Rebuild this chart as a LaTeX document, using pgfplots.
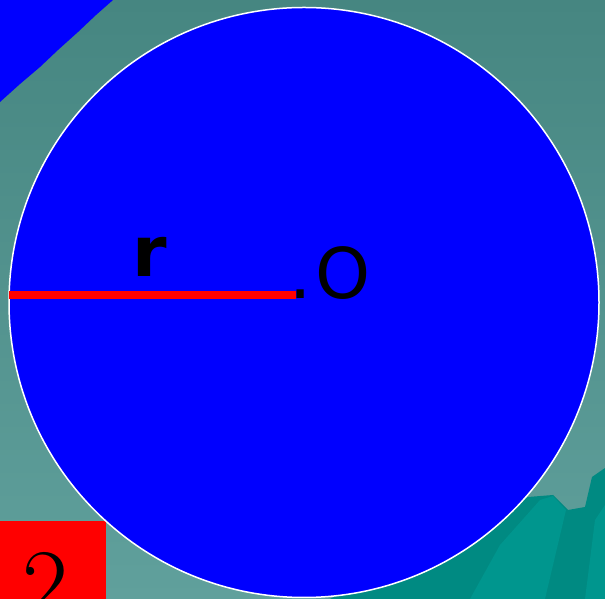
\documentclass[border=0pt]{standalone}
\usepackage{pgfplots}
\pgfplotsset{compat=1.18}
\usepackage{fontspec}
\newfontfamily\dejavu{DejaVu Sans}
\definecolor{bgtop}{RGB}{70,134,129}
\definecolor{bgbot}{RGB}{96,160,156}
\definecolor{tealdark}{RGB}{0,138,130}
\definecolor{teallight}{RGB}{0,150,142}
\begin{document}
\begin{tikzpicture}
\begin{axis}[
    set layers,
    scale only axis,
    width=605pt, height=599pt,
    xmin=0, xmax=605, ymin=0, ymax=599,
    y dir=reverse,
    hide axis
    ]

% background
\addplot [on layer=axis background, draw=none, top color=bgtop, bottom color=bgbot] coordinates {(0,0) (605,0) (605,599) (0,599)} -- cycle;

% teal shapes, bottom right
\addplot [on layer=axis background, draw=none, fill=tealdark] coordinates {(330,599) (440,540) (528,497) (553,495) (568,510) (585,507) (592,477) (605,468) (605,599)} -- cycle;
\addplot [on layer=axis background, draw=none, fill=teallight] coordinates {(470,599) (500,545) (540,500) (553,496) (566,510) (545,599)} -- cycle;
\addplot [on layer=axis background, draw=none, fill=teallight] coordinates {(585,599) (595,520) (605,505) (605,599)} -- cycle;

% blue corner, top left
\addplot [on layer=axis background, draw=none, fill=blue] coordinates {(0,0) (113,0) (96,15) (78,32) (58,50) (40,67) (20,84) (0,102)} -- cycle;

% red square, bottom left
\addplot [on layer=axis background, draw=none, fill=red] coordinates {(0,521) (106,521) (106,599) (0,599)} -- cycle;

% the circle
\addplot [only marks, mark=*, mark size=295pt,
  mark options={fill=blue, draw=white, line width=1.5pt}] coordinates {(304,302.5)};

% radius
\addplot [on layer=axis foreground, red, line width=8pt, line cap=butt] coordinates {(9,295) (296,295)};

\begin{pgfonlayer}{axis foreground}
\node [anchor=base west, inner sep=0pt] at (132,277) {\dejavu\bfseries\fontsize{70}{70}\selectfont r};
\node [anchor=base west, inner sep=0pt] at (289,299) {\dejavu\fontsize{70}{70}\selectfont .\kern4pt O};
\node [overlay, anchor=base west, inner sep=0pt] at (22,619) {\fontsize{100}{100}\selectfont 2};
\end{pgfonlayer}
\end{axis}
\end{tikzpicture}
\end{document}
